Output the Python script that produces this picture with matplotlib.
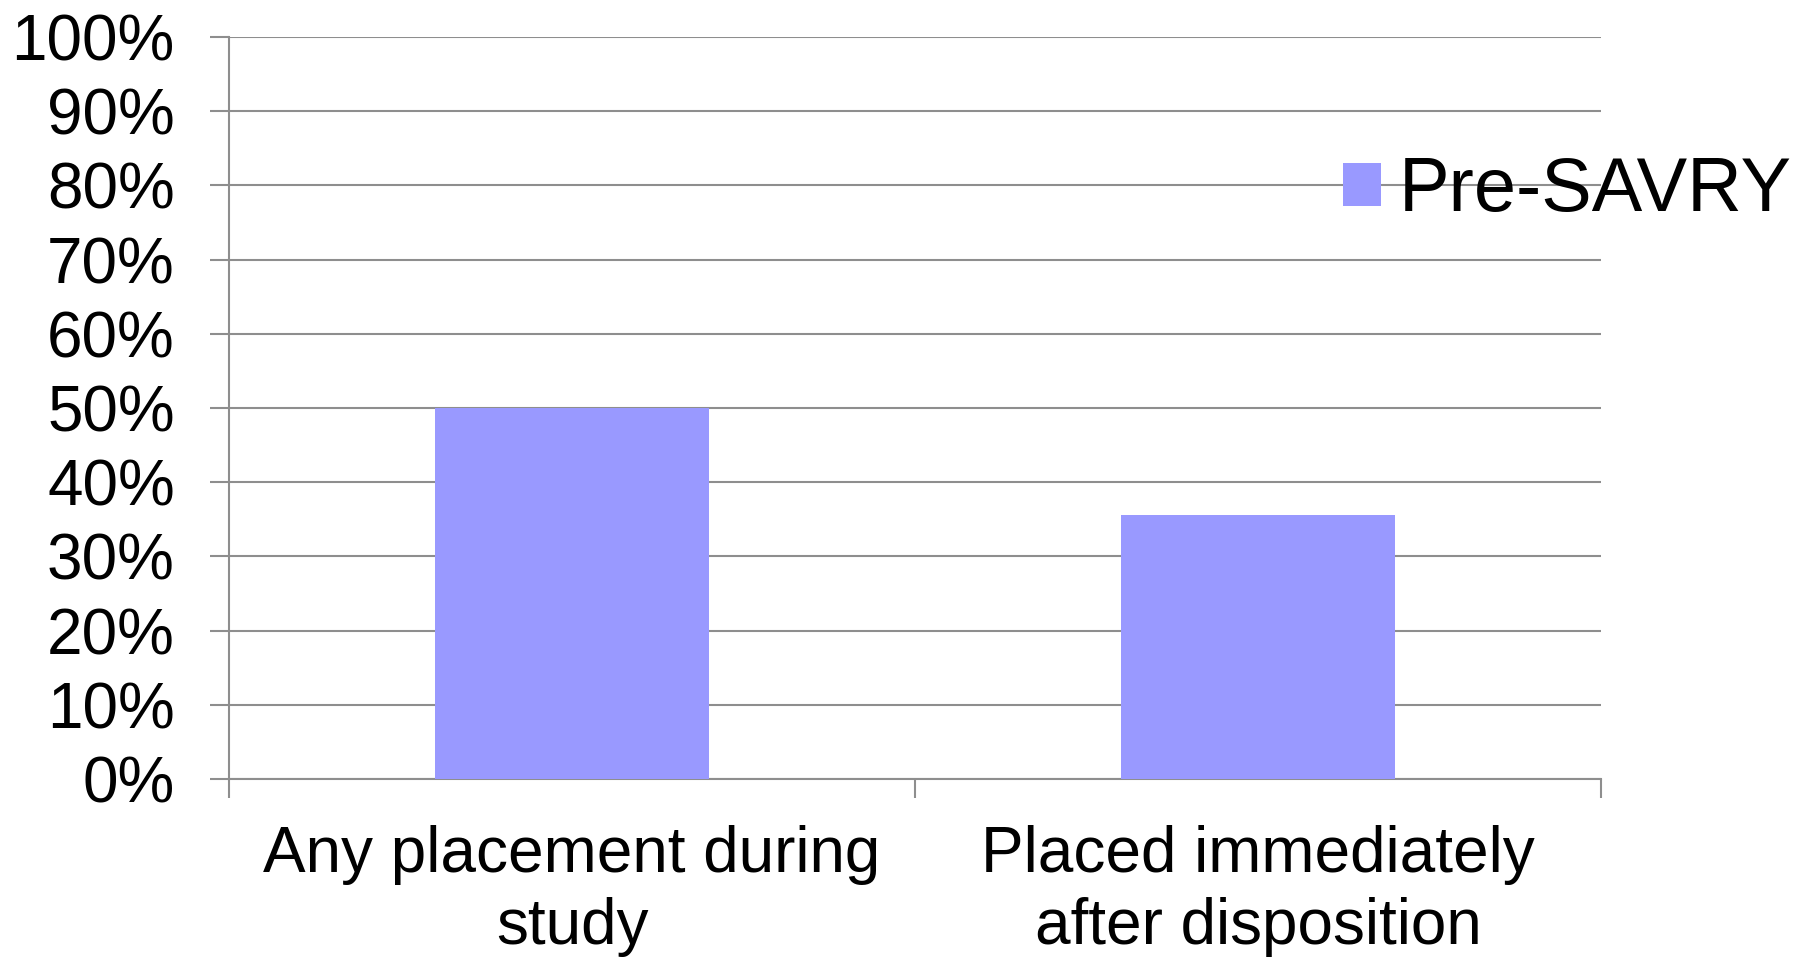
import matplotlib.pyplot as plt
from matplotlib.ticker import FuncFormatter

plt.rcParams['font.family'] = ['Liberation Sans', 'DejaVu Sans']

categories = ["Any placement during\nstudy", "Placed immediately\nafter disposition"]
pre_savry = [50.0, 35.6]
series_name = "Pre-SAVRY"

bar_color = '#9999ff'
grid_color = '#8e8e8e'

fig = plt.figure(figsize=(18.06, 9.61), dpi=100)
ax = fig.add_axes([229/1806, 1 - 779/961, (1601-229)/1806, (779-37)/961])

x = list(range(len(categories)))
ax.bar(x, pre_savry, width=0.4, color=bar_color, label=series_name, zorder=3)

ax.set_xlim(-0.5, len(categories) - 0.5)
ax.set_ylim(0, 100)
ax.set_yticks(range(0, 101, 10))
ax.yaxis.set_major_formatter(FuncFormatter(lambda v, p: "%d%%" % v))
ax.grid(axis='y', color=grid_color, linewidth=1.5, zorder=0)

ax.set_xticks(x)
ax.set_xticklabels(categories, fontsize=46, linespacing=1.26)
ax.set_xticks([i - 0.5 for i in range(len(categories) + 1)], minor=True)
ax.tick_params(axis='x', which='major', length=0, pad=33)
ax.tick_params(axis='x', which='minor', length=14, width=1.5, color=grid_color)
ax.tick_params(axis='y', labelsize=46, length=14, width=1.5, color=grid_color, pad=25)

for s in ['top', 'right']:
    ax.spines[s].set_visible(False)
for s in ['left', 'bottom']:
    ax.spines[s].set_color(grid_color)
    ax.spines[s].set_linewidth(1.5)

ax.legend(loc='center left', bbox_to_anchor=(1343/1806, 1 - 192/961),
          bbox_transform=fig.transFigure, frameon=False, fontsize=54.5,
          handlelength=0.5, handleheight=0.5, handletextpad=0.24,
          borderpad=0, borderaxespad=0)

fig.savefig("out.png", dpi=100)
